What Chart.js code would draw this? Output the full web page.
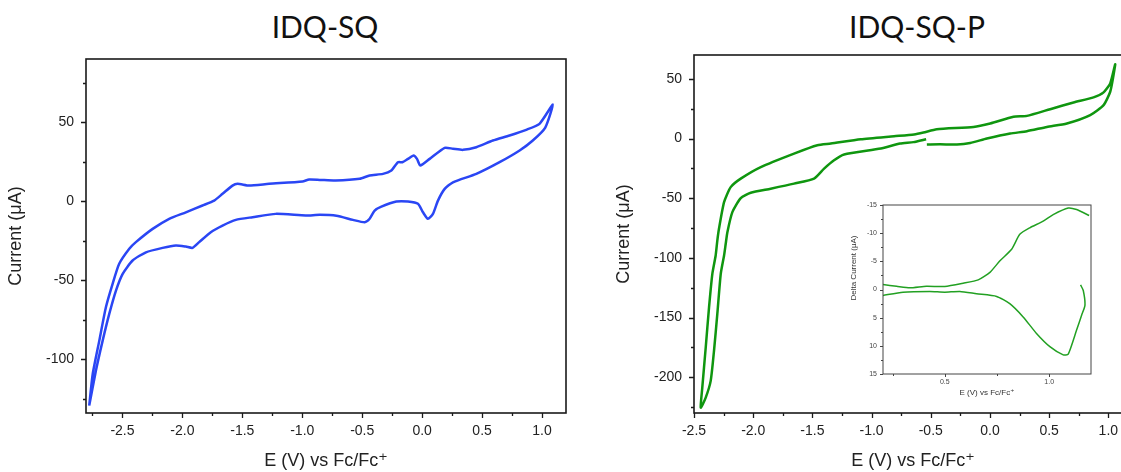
<!DOCTYPE html>
<html>
<head>
<meta charset="utf-8">
<script src="https://cdn.jsdelivr.net/npm/chart.js@4.4.1/dist/chart.umd.min.js"></script>
<style>
  html, body { margin: 0; padding: 0; background: #fff; }
  body { width: 1121px; height: 472px; overflow: hidden; position: relative; }
  canvas { position: absolute; }
  .title { position: absolute; top: 6px; width: 240px; text-align: center;
           font-family: Lato, "Open Sans", sans-serif; font-size: 30px; line-height: 40px; color: #111; }
</style>
</head>
<body>
<div class="title" style="left:205px">IDQ-SQ</div>
<div class="title" style="left:797px">IDQ-SQ-P</div>
<canvas id="left" width="567" height="472" style="left:0;top:0"></canvas>
<canvas id="right" width="525" height="472" style="left:608px;top:0"></canvas>
<canvas id="inset" width="270" height="220" style="left:830px;top:190px"></canvas>
<script>
// IDQ-SQ cyclic voltammogram, E (V) vs Fc/Fc+ and current (uA)
const sqForwardE = [-2.777,-2.748,-2.693,-2.638,-2.582,-2.527,-2.443,-2.388,-2.248,-2.110,-1.971,-1.832,-1.735,-1.665,-1.582,-1.540,-1.443,-1.277,-0.998,-0.943,-0.854,-0.721,-0.521,-0.438,-0.327,-0.257,-0.202,-0.165,-0.118,-0.071,-0.043,-0.015,0.063,0.188,0.257,0.340,0.452,0.590,0.729,0.868,0.979,1.090];
const sqForwardI = [-129.3,-109.3,-88.2,-67.1,-52.3,-39.6,-30.1,-25.9,-17.5,-11.1,-7.0,-2.7,0.4,4.7,9.9,11.0,9.9,11.0,12.5,13.7,13.5,13.1,14.2,16.3,17.3,19.4,24.7,24.7,26.8,28.9,26.8,22.6,26.8,33.8,33.2,32.5,34.2,38.4,41.6,45.2,49.0,61.2];
const sqReverseE = [1.027,0.923,0.813,0.646,0.452,0.257,0.188,0.132,0.090,0.048,0.007,-0.035,-0.118,-0.215,-0.340,-0.396,-0.438,-0.479,-0.577,-0.715,-0.854,-0.971,-1.221,-1.415,-1.554,-1.665,-1.763,-1.860,-1.915,-1.971,-2.054,-2.165,-2.304,-2.415,-2.498,-2.554,-2.610,-2.665,-2.721,-2.777];
const sqReverseI = [46.6,38.4,32.1,24.7,17.3,12.0,7.8,0.4,-8.0,-11.1,-7.0,-1.6,-0.2,-0.2,-3.4,-5.9,-11.1,-13.3,-11.8,-9.2,-8.6,-9.0,-8.0,-10.1,-11.8,-15.4,-19.6,-25.9,-29.5,-28.7,-28.0,-29.5,-32.3,-37.5,-45.9,-56.5,-71.3,-88.2,-107.1,-129.3];

// IDQ-SQ-P cyclic voltammogram (starts and ends near -0.54 V, leaving a gap)
const pE = [-0.539,-0.646,-0.759,-0.922,-1.232,-1.317,-1.401,-1.486,-1.655,-1.852,-2.021,-2.105,-2.176,-2.218,-2.232,-2.246,-2.274,-2.303,-2.331,-2.359,-2.401,-2.443,
  -2.430,-2.401,-2.373,-2.345,-2.317,-2.303,-2.289,-2.246,-2.190,-2.105,-1.936,-1.655,-1.458,-1.344,-1.091,-0.810,-0.641,-0.562,-0.449,-0.139,0.002,0.199,0.312,0.509,0.706,0.875,0.960,1.016,1.058,
  1.044,1.016,0.960,0.847,0.650,0.481,0.312,0.171,-0.026,-0.167,-0.279,-0.421,-0.533];
const pI = [-0.6,-3.0,-4.2,-8.4,-13.4,-18.2,-25.2,-33.6,-37.8,-42.0,-45.4,-49.9,-61.7,-78.5,-88.2,-98.0,-113.4,-147.0,-177.9,-203.1,-217.1,-225.5,
  -208.7,-175.1,-141.5,-113.4,-98.0,-85.5,-75.6,-53.3,-40.7,-33.6,-23.9,-12.6,-5.6,-4.2,-0.6,1.9,3.4,5.0,7.8,9.7,12.6,18.2,19.0,24.6,30.2,34.5,38.7,46.2,62.2,
  53.2,39.2,28.0,19.6,12.6,9.7,6.1,4.2,0.0,-3.7,-5.0,-4.8,-5.0];

// inset: delta current (uA)
const insetUpperE = [0.204,0.269,0.332,0.412,0.500,0.588,0.660,0.716,0.764,0.820,0.859,0.907,0.971,1.019,1.091,1.131,1.191];
const insetUpperD = [-0.88,-0.58,-0.30,-0.58,-0.53,-1.11,-1.70,-3.04,-5.10,-7.15,-9.79,-10.95,-12.13,-13.30,-14.47,-14.19,-13.14];
const insetLowerE = [0.204,0.300,0.428,0.500,0.572,0.652,0.748,0.811,0.875,0.939,1.003,1.067,1.091,1.131,1.155,1.171,1.163,1.150];
const insetLowerD = [1.06,0.47,0.35,0.47,0.35,0.76,1.23,2.52,4.87,7.80,10.14,11.60,11.48,7.21,4.57,2.81,0.18,-0.82];

// tick labels
const mainXTicks = [-2.5,-2.0,-1.5,-1.0,-0.5,0.0,0.5,1.0];
const leftYTicks = [-100,-50,0,50];
const rightYTicks = [-200,-150,-100,-50,0,50];
const insetXTicks = [0.5,1.0];
const insetYTicks = [-15,-10,-5,0,5,10,15];

const xTitle = 'E (V) vs Fc/Fc\u207A';
const yTitle = 'Current (\u03BCA)';

function pts(xs, ys) { return xs.map((x, i) => ({ x: x, y: ys[i] })); }

function tickList(major, step, min, max) {
  const out = [];
  const n0 = Math.ceil(min / step - 1e-9), n1 = Math.floor(max / step + 1e-9);
  for (let n = n0; n <= n1; n++) {
    const v = +(n * step).toFixed(6);
    out.push({ value: v, minor: !major.some(m => Math.abs(m - v) < 1e-6) });
  }
  return out;
}

// box frame, outward tick marks and an optional free-placed y title
const framePlugin = {
  id: 'frame',
  afterDraw(chart, args, o) {
    const { ctx, chartArea: a } = chart;
    const xs = chart.scales.x, ys = chart.scales.y;
    ctx.save();
    ctx.strokeStyle = o.color;
    ctx.lineWidth = o.width;
    ctx.strokeRect(a.left, a.top, a.right - a.left, a.bottom - a.top);
    ctx.lineWidth = o.tickWidth;
    ctx.beginPath();
    xs.ticks.forEach(t => {
      const px = Math.round(xs.getPixelForValue(t.value)) + 0.5;
      ctx.moveTo(px, a.bottom);
      ctx.lineTo(px, a.bottom + (t.minor ? o.minor : o.major));
    });
    ys.ticks.forEach(t => {
      const py = Math.round(ys.getPixelForValue(t.value)) + 0.5;
      ctx.moveTo(a.left, py);
      ctx.lineTo(a.left - (t.minor ? o.minor : o.major), py);
    });
    ctx.stroke();
    if (o.yTitle) {
      ctx.translate(o.yTitle.x, o.yTitle.y);
      ctx.rotate(-Math.PI / 2);
      ctx.font = o.yTitle.font;
      ctx.fillStyle = o.yTitle.color;
      ctx.textAlign = 'center';
      ctx.textBaseline = 'middle';
      ctx.fillText(o.yTitle.text, 0, 0);
    }
    ctx.restore();
  }
};

const axisFont = { family: '"Liberation Sans", Arial, "DejaVu Sans", sans-serif', size: 14 };
const titleFont = { family: '"Liberation Sans", Arial, "DejaVu Sans", sans-serif', size: 18 };

function mainChart(id, datasets, xMin, xMax, yMin, yMax, yTicks, topPad) {
  return new Chart(document.getElementById(id), {
    type: 'line',
    data: { datasets },
    options: {
      responsive: false,
      devicePixelRatio: 1,
      animation: false,
      events: [],
      layout: { padding: { top: topPad, right: 1, left: 0, bottom: 0 } },
      elements: { point: { radius: 0 }, line: { tension: 0.2, borderWidth: 2.5 } },
      scales: {
        x: {
          type: 'linear', min: xMin, max: xMax,
          afterBuildTicks: s => { s.ticks = tickList(mainXTicks, 0.25, xMin, xMax); },
          afterFit: s => { s.height = 59; },
          grid: { display: false, drawTicks: false },
          border: { display: false },
          ticks: { padding: 10, color: '#222', font: axisFont, maxRotation: 0, autoSkip: false,
                   callback: (v, i, t) => t[i].minor ? '' : v.toFixed(1) },
          title: { display: true, text: xTitle, color: '#222', font: titleFont, padding: { top: 0, bottom: 0 } }
        },
        y: {
          type: 'linear', min: yMin, max: yMax,
          afterBuildTicks: s => { s.ticks = tickList(yTicks, 25, yMin, yMax); },
          afterFit: s => { s.width = 86; },
          grid: { display: false, drawTicks: false },
          border: { display: false },
          ticks: { padding: 12, color: '#222', font: axisFont, autoSkip: false,
                   callback: (v, i, t) => t[i].minor ? '' : String(v) },
          title: { display: true, text: yTitle, color: '#222', font: titleFont, padding: { top: 5, bottom: 0 } }
        }
      },
      plugins: {
        legend: { display: false },
        tooltip: { enabled: false },
        frame: { color: '#1a1a1a', width: 1.6, tickWidth: 1.3, major: 5, minor: 3 }
      }
    },
    plugins: [framePlugin]
  });
}

mainChart('left', [{
  data: pts(sqForwardE.concat(sqReverseE), sqForwardI.concat(sqReverseI)),
  borderColor: '#2a46f4', fill: false
}], -2.804, 1.2, -134, 90, leftYTicks, 59);

mainChart('right', [{
  data: pts(pE, pI),
  borderColor: '#0f960f', fill: false
}], -2.5, 1.2, -230, 70, rightYTicks, 55);

const smallFont = { family: '"Liberation Sans", Arial, "DejaVu Sans", sans-serif', size: 7 };
new Chart(document.getElementById('inset'), {
  type: 'line',
  data: {
    datasets: [
      { data: pts(insetUpperE, insetUpperD), borderColor: '#22a022', fill: false },
      { data: pts(insetLowerE, insetLowerD), borderColor: '#22a022', fill: false }
    ]
  },
  options: {
    responsive: false,
    devicePixelRatio: 1,
    animation: false,
    events: [],
    layout: { padding: { top: 15, right: 9, left: 0, bottom: 0 } },
    elements: { point: { radius: 0 }, line: { tension: 0.2, borderWidth: 1.5 } },
    scales: {
      x: {
        type: 'linear', min: 0.204, max: 1.2,
        afterBuildTicks: s => { s.ticks = tickList(insetXTicks, 0.25, 0.204, 1.2); },
        afterFit: s => { s.height = 36; },
        grid: { display: false, drawTicks: false },
        border: { display: false },
        ticks: { padding: 4, color: '#444', font: smallFont, maxRotation: 0, autoSkip: false,
                 callback: (v, i, t) => t[i].minor ? '' : v.toFixed(1) },
        title: { display: true, text: xTitle, color: '#333', font: { ...smallFont, size: 8 }, padding: { top: 0, bottom: 12 } }
      },
      y: {
        type: 'linear', min: -15, max: 15, reverse: true,
        afterBuildTicks: s => { s.ticks = tickList(insetYTicks, 2.5, -15, 15); },
        afterFit: s => { s.width = 53; },
        grid: { display: false, drawTicks: false },
        border: { display: false },
        ticks: { padding: 6, color: '#444', font: smallFont, autoSkip: false,
                 callback: (v, i, t) => t[i].minor ? '' : String(v) }
      }
    },
    plugins: {
      legend: { display: false },
      tooltip: { enabled: false },
      frame: { color: '#444', width: 1, tickWidth: 1, major: 3, minor: 2,
               yTitle: { text: 'Delta Current (\u03BCA)', x: 24, y: 78, color: '#333',
                         font: '8px "Liberation Sans", Arial, sans-serif' } }
    }
  },
  plugins: [framePlugin]
});
</script>
</body>
</html>
